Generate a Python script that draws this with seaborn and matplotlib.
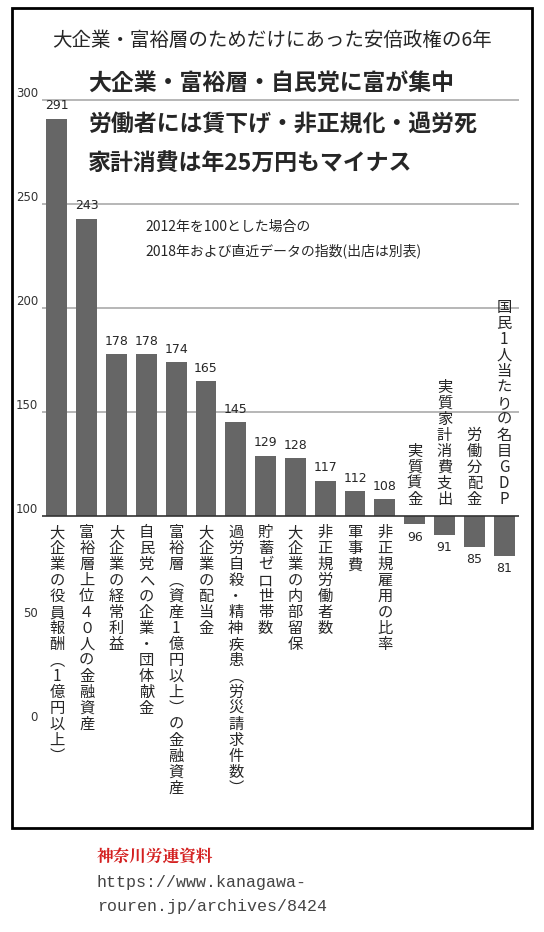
import matplotlib
matplotlib.use("Agg")
import matplotlib.pyplot as plt
import seaborn as sns
import pandas as pd
from matplotlib.patches import Rectangle

categories = ["大企業の役員報酬︵1億円以上︶", "富裕層上位４０人の金融資産", "大企業の経常利益",
              "自民党への企業・団体献金", "富裕層︵資産1億円以上︶の金融資産", "大企業の配当金",
              "過労自殺・精神疾患︵労災請求件数︶", "貯蓄ゼロ世帯数", "大企業の内部留保",
              "非正規労働者数", "軍事費", "非正規雇用の比率", "実質賃金", "実質家計消費支出",
              "労働分配金", "国民1人当たりの名目GDP"]
values = [291, 243, 178, 178, 174, 165, 145, 129, 128, 117, 112, 108, 96, 91, 85, 81]
yticks = [0, 50, 100, 150, 200, 250, 300]

sns.set_style("white")
plt.rcParams['font.family'] = ['Noto Sans CJK JP', 'DejaVu Sans']

W, H = 544, 932
fig = plt.figure(figsize=(W/100, H/100), dpi=100)
ax = fig.add_axes([42/W, 1-790/H, 477/W, 730/H])
ppu = 624/300.0
base = 100
ymax = 300 + 40/ppu
ymin = 0 - 66/ppu

df = pd.DataFrame({"cat": categories, "d": [v - base for v in values]})
sns.barplot(data=df, x="cat", y="d", color="#666666", saturation=1, width=0.7, ax=ax, zorder=3)
for p in ax.patches:
    p.set_edgecolor("none")
ax.set_ylim(ymin - base, ymax - base)
ax.set_xlim(-0.5, len(values) - 0.5)
for s in ax.spines.values():
    s.set_visible(False)
ax.set_xticks([]); ax.set_yticks([])
ax.set_xlabel(""); ax.set_ylabel("")

for t in [150, 200, 250, 300]:
    ax.axhline(t - base, color="#aaaaaa", lw=1.2, zorder=1)
ax.axhline(0, color="#333333", lw=1.2, zorder=4)
for t in yticks:
    fig.text(38/W, 1-(724 - t*ppu)/H, str(t), ha="right", va="bottom", fontsize=8.5,
             color="#333333", family="DejaVu Sans")

for i, (c, v) in enumerate(zip(categories, values)):
    d = v - base
    vert = "\n".join(list(c))
    if d >= 0:
        ax.text(i, d + 3, str(v), ha="center", va="bottom", fontsize=9, zorder=5, family="DejaVu Sans")
        ax.text(i, -4, vert, ha="center", va="top", fontsize=11, linespacing=0.92, zorder=5)
    else:
        ax.text(i, d - 3, str(v), ha="center", va="top", fontsize=9, zorder=5, family="DejaVu Sans")
        ax.text(i, 4, vert, ha="center", va="bottom", fontsize=11, linespacing=0.92, zorder=5)

fig.text(272/W, 1-40/H, "大企業・富裕層のためだけにあった安倍政権の6年", ha="center", va="center", fontsize=14)
heads = ["大企業・富裕層・自民党に富が集中", "労働者には賃下げ・非正規化・過労死", "家計消費は年25万円もマイナス"]
for k, h in enumerate(heads):
    fig.text(88/W, 1-(84 + 40*k)/H, h, ha="left", va="center", fontsize=16.5, fontweight="bold",
             bbox=dict(facecolor="white", edgecolor="none", pad=1), zorder=10)
fig.text(145/W, 1-227/H, "2012年を100とした場合の", ha="left", va="center", fontsize=10)
fig.text(145/W, 1-251/H, "2018年および直近データの指数(出店は別表)", ha="left", va="center", fontsize=10)

fig.patches.append(Rectangle((12/W, 1-828/H), 520/W, 820/H, transform=fig.transFigure,
                             fill=False, edgecolor="black", lw=2))

fig.text(97/W, 1-857/H, "神奈川労連資料", ha="left", va="center", fontsize=12, fontweight="bold",
         color="#d42020", family=["Noto Serif CJK JP", "Noto Sans CJK JP"])
fig.text(97/W, 1-882/H, "https://www.kanagawa-", ha="left", va="center", fontsize=12,
         color="#444444", family="Liberation Mono")
fig.text(97/W, 1-907/H, "rouren.jp/archives/8424", ha="left", va="center", fontsize=12,
         color="#444444", family="Liberation Mono")

fig.savefig("out.png", dpi=100, facecolor="white")
